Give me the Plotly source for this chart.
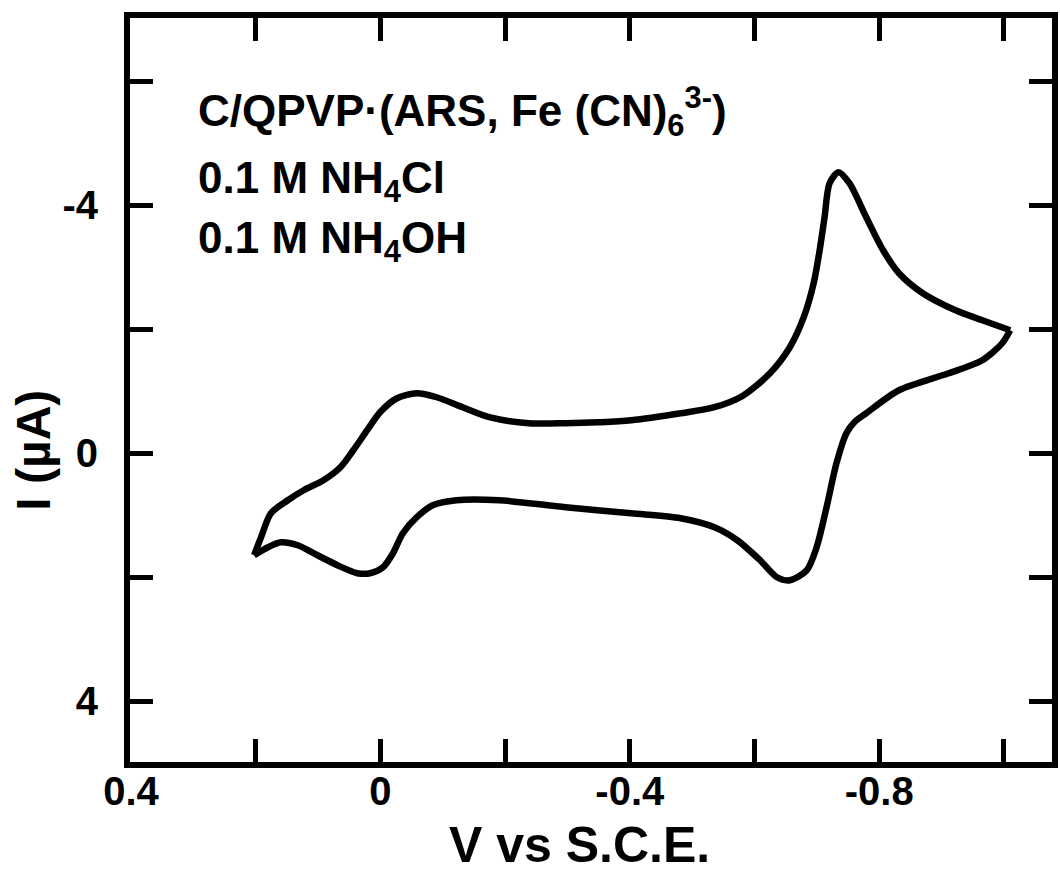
import plotly.graph_objects as go

# Cyclic voltammogram: forward branch (left vertex -> cathodic peak -> right vertex)
upper_v = [0.2025, 0.1914, 0.1755, 0.1484, 0.1230, 0.0912, 0.0641, 0.0434, 0.0212, 0.0005,
           -0.0266, -0.0584, -0.0902, -0.1316, -0.1745, -0.2380, -0.2970, -0.3495, -0.4020,
           -0.4816, -0.5357, -0.5800, -0.6247, -0.6566, -0.6789, -0.6948, -0.7044,
           -0.7123, -0.7203, -0.7346, -0.7521, -0.7791, -0.8062, -0.8316, -0.8698, -0.9223,
           -0.9653, -1.0099]
upper_i = [1.645, 1.355, 0.968, 0.758, 0.597, 0.435, 0.226, -0.048, -0.371, -0.661,
           -0.887, -0.968, -0.903, -0.742, -0.581, -0.484, -0.484, -0.500, -0.532,
           -0.645, -0.742, -0.919, -1.290, -1.710, -2.194, -2.742, -3.274,
           -3.806, -4.355, -4.532, -4.355, -3.806, -3.274, -2.903, -2.581, -2.306,
           -2.145, -1.984]

# Reverse branch (right vertex -> anodic peaks -> left vertex)
lower_v = [-1.0099, -0.9971, -0.9653, -0.9112, -0.8316, -0.7791, -0.7600, -0.7473, -0.7314,
           -0.7155, -0.6996, -0.6837, -0.6566, -0.6359, -0.6089, -0.5723, -0.5357, -0.4816,
           -0.4020, -0.2970, -0.1905, -0.1221, -0.0839, -0.0584, -0.0361, -0.0202, -0.0043,
           0.0164, 0.0371, 0.0689, 0.1007, 0.1325, 0.1596, 0.1803, 0.2025]
lower_i = [-1.984, -1.774, -1.500, -1.290, -1.016, -0.645, -0.500, -0.323, 0.161,
           0.871, 1.516, 1.887, 2.048, 2.000, 1.726, 1.403, 1.194, 1.048,
           0.968, 0.871, 0.758, 0.758, 0.839, 1.032, 1.290, 1.613, 1.839,
           1.935, 1.935, 1.806, 1.645, 1.484, 1.435, 1.516, 1.645]

x_tickvals = [0.4, 0.2, 0.0, -0.2, -0.4, -0.6, -0.8, -1.0]
x_ticktext = ["0.4", "", "0", "", "-0.4", "", "-0.8", ""]
y_tickvals = [-6, -4, -2, 0, 2, 4]
y_ticktext = ["", "-4", "", "0", "", "4"]

W, H = 1060, 874
L, R, T, B = 130, 1058, 18, 762


def px(x):
    return (x - L) / (R - L)


def py(y):
    return 1 - (y - T) / (B - T)


FONT = "Liberation Sans"
fig = go.Figure()
line = dict(color="black", width=6.5, shape="spline", smoothing=0.8)
fig.add_trace(go.Scatter(x=upper_v, y=upper_i, mode="lines", line=line, showlegend=False))
fig.add_trace(go.Scatter(x=lower_v, y=lower_i, mode="lines", line=line, showlegend=False))

axis_common = dict(
    showline=True, linewidth=6, linecolor="black", mirror="ticks",
    ticks="inside", ticklen=23, tickwidth=5, tickcolor="black",
    showgrid=False, zeroline=False,
    tickfont=dict(family=FONT, size=40, color="black", weight="bold"),
)

fig.update_layout(
    width=W, height=H,
    margin=dict(l=L, r=W - R, t=T, b=H - B),
    paper_bgcolor="white", plot_bgcolor="white",
    xaxis=dict(range=[0.4015, -1.077], tickmode="array", tickvals=x_tickvals,
               ticktext=x_ticktext, ticklabelstandoff=-11, **axis_common),
    yaxis=dict(range=[4.98, -7.02], tickmode="array", tickvals=y_tickvals,
               ticktext=y_ticktext, ticklabelstandoff=18, **axis_common),
)

ann_font = dict(family=FONT, size=44, color="black", weight="bold")
fig.add_annotation(x=px(196), y=py(111), xref="paper", yref="paper", xanchor="left",
                   yanchor="middle", showarrow=False, font=ann_font,
                   text="C/QPVP·(ARS, Fe (CN)<sub>6</sub><sup>3-</sup>)")
fig.add_annotation(x=px(196), y=py(181), xref="paper", yref="paper", xanchor="left",
                   yanchor="middle", showarrow=False, font=ann_font,
                   text="0.1 M NH<sub>4</sub>Cl")
fig.add_annotation(x=px(196), y=py(241), xref="paper", yref="paper", xanchor="left",
                   yanchor="middle", showarrow=False, font=ann_font,
                   text="0.1 M NH<sub>4</sub>OH")

fig.add_annotation(x=px(582), y=py(845), xref="paper", yref="paper", xanchor="center",
                   yanchor="middle", showarrow=False,
                   font=dict(family=FONT, size=50, color="black", weight="bold"),
                   text="V vs S.C.E.")
fig.add_annotation(x=px(32), y=py(450), xref="paper", yref="paper", xanchor="center",
                   yanchor="middle", showarrow=False, textangle=-90,
                   font=dict(family=FONT, size=48, color="black", weight="bold"),
                   text="I (µA)")

fig.write_html("out.html")
